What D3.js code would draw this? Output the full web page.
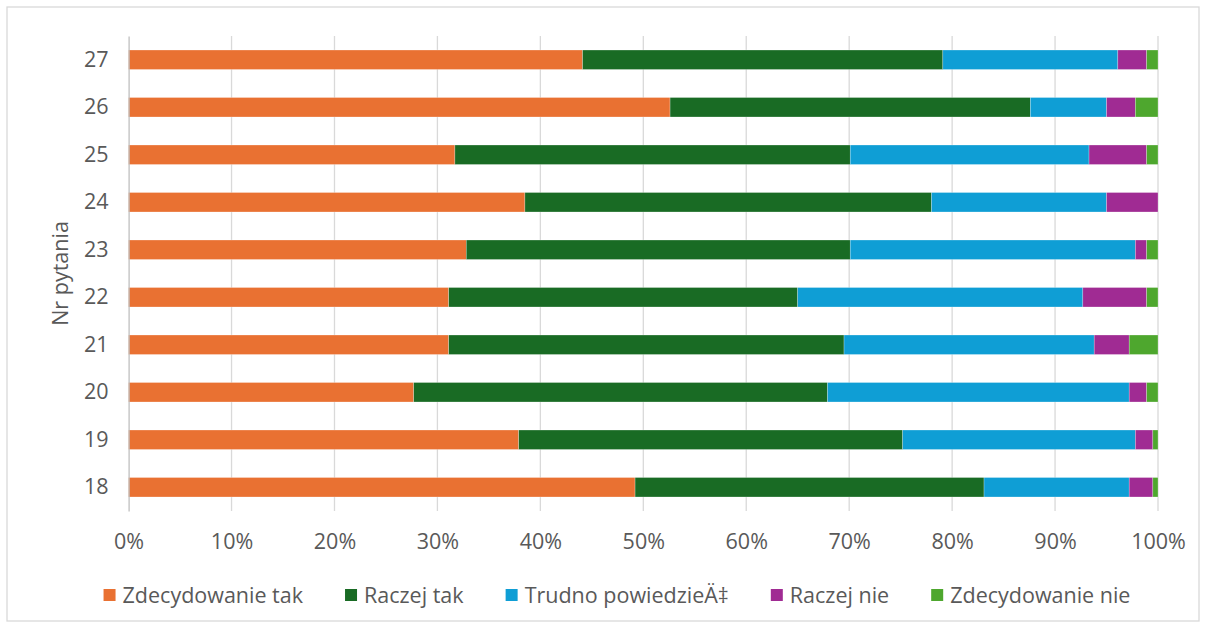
<!DOCTYPE html>
<html>
<head>
<meta charset="utf-8">
<script src="https://cdn.jsdelivr.net/npm/d3@7"></script>
<style>
  body { margin: 0; background: #fff; }
  text { font-family: 'Open Sans', sans-serif; fill: #595959; }
</style>
</head>
<body>
<div id="chart"></div>
<script>
// question numbers, bottom to top as drawn
const questions = ['18', '19', '20', '21', '22', '23', '24', '25', '26', '27'];
const seriesNames = ['Zdecydowanie tak', 'Raczej tak', 'Trudno powiedzieÄ‡', 'Raczej nie', 'Zdecydowanie nie'];
const seriesColors = ['#E97132', '#196B24', '#0F9ED5', '#A02B93', '#4EA72E'];

// shares in percent, one array per series, in the order of `questions`
const zdecydowanieTak = [49.2, 37.9, 27.7, 31.1, 31.1, 32.8, 38.5, 31.7, 52.6, 44.1];
const raczejTak       = [33.9, 37.3, 40.2, 38.4, 33.9, 37.3, 39.5, 38.4, 35.0, 35.0];
const trudno          = [14.1, 22.6, 29.3, 24.3, 27.7, 27.7, 17.0, 23.2, 7.4, 17.0];
const raczejNie       = [2.3, 1.7, 1.7, 3.4, 6.2, 1.1, 5.0, 5.6, 2.8, 2.8];
const zdecydowanieNie = [0.5, 0.5, 1.1, 2.8, 1.1, 1.1, 0, 1.1, 2.2, 1.1];

const xTicks = [0, 10, 20, 30, 40, 50, 60, 70, 80, 90, 100];

const W = 1206, H = 628;
const fontSize = '21.5px';
const margin = { left: 128.6, right: 48, top: 36, bottom: 117 };
const pw = W - margin.left - margin.right;
const ph = H - margin.top - margin.bottom;

const rows = questions.map((q, i) => ({
  q,
  [seriesNames[0]]: zdecydowanieTak[i],
  [seriesNames[1]]: raczejTak[i],
  [seriesNames[2]]: trudno[i],
  [seriesNames[3]]: raczejNie[i],
  [seriesNames[4]]: zdecydowanieNie[i]
}));

const stacked = d3.stack().keys(seriesNames)(rows);

const svg = d3.select('#chart')
  .append('svg')
  .attr('width', W)
  .attr('height', H);

// chart frame
svg.append('rect')
  .attr('x', 7).attr('y', 7)
  .attr('width', W - 14).attr('height', H - 14)
  .attr('fill', '#fff')
  .attr('stroke', '#d9d9d9')
  .attr('stroke-width', 1.3);

const g = svg.append('g')
  .attr('transform', `translate(${margin.left},${margin.top})`);

const x = d3.scaleLinear().domain([0, 100]).range([0, pw]);
const y = d3.scaleBand()
  .domain(questions.slice().reverse())
  .range([0, ph])
  .paddingInner(0.59)
  .paddingOuter(0.295);

// gridlines
g.append('g')
  .selectAll('line')
  .data(xTicks.slice(1))
  .join('line')
  .attr('x1', d => x(d)).attr('x2', d => x(d))
  .attr('y1', 0).attr('y2', ph)
  .attr('stroke', '#d9d9d9')
  .attr('stroke-width', 1.3);

// bars
g.append('g')
  .selectAll('g')
  .data(stacked)
  .join('g')
  .attr('fill', (d, i) => seriesColors[i])
  .selectAll('rect')
  .data(d => d)
  .join('rect')
  .attr('x', d => x(d[0]))
  .attr('y', d => y(d.data.q))
  .attr('width', d => x(d[1]) - x(d[0]))
  .attr('height', y.bandwidth())
  .attr('stroke', '#fff')
  .attr('stroke-opacity', 0.5)
  .attr('stroke-width', 0.5);

// y axis
const yAxis = g.append('g')
  .call(d3.axisLeft(y).tickSize(0).tickPadding(20));
yAxis.select('.domain').attr('stroke', '#bfbfbf').attr('stroke-width', 1.3);
yAxis.selectAll('text').style('font-size', fontSize).attr('fill', '#595959');

// x axis labels
const xAxis = g.append('g')
  .attr('transform', `translate(0,${ph})`)
  .call(d3.axisBottom(x).tickValues(xTicks).tickSize(0).tickPadding(23).tickFormat(d => d + '%'));
xAxis.select('.domain').remove();
xAxis.selectAll('text').style('font-size', fontSize).attr('fill', '#595959');

// y axis title
svg.append('text')
  .attr('transform', `translate(68,${margin.top + ph / 2}) rotate(-90)`)
  .attr('text-anchor', 'middle')
  .style('font-size', fontSize)
  .text('Nr pytania');

// legend
const legend = svg.append('g');
const gap = 42;
let lx = 0;
seriesNames.forEach((name, i) => {
  const item = legend.append('g').attr('transform', `translate(${lx},0)`);
  item.append('rect')
    .attr('x', 0).attr('y', -6)
    .attr('width', 12).attr('height', 12)
    .attr('fill', seriesColors[i]);
  const t = item.append('text')
    .attr('x', 19).attr('dy', '0.35em')
    .style('font-size', fontSize)
    .text(name);
  lx += 19 + t.node().getComputedTextLength() + gap;
});
lx -= gap;
legend.attr('transform', `translate(${617 - lx / 2},595)`);
</script>
</body>
</html>
